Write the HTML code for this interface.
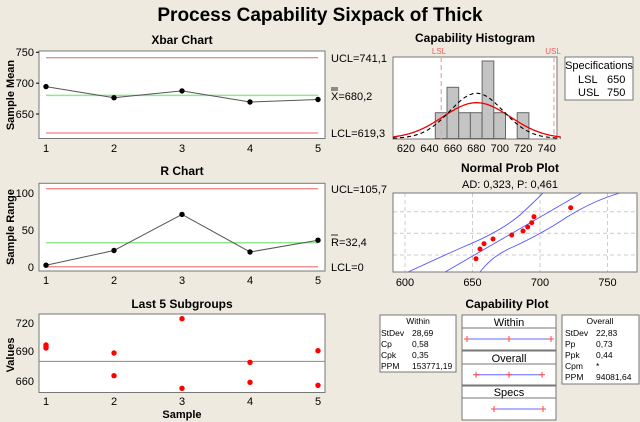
<!DOCTYPE html>
<html><head><meta charset="utf-8"><style>
html,body{margin:0;padding:0;background:#eeeae0;}
svg{display:block;font-family:"Liberation Sans",sans-serif;}
</style></head><body>
<svg width="640" height="422" viewBox="0 0 640 422" xmlns="http://www.w3.org/2000/svg">
<rect width="640" height="422" fill="#eeeae0"/>
<text x="320" y="21" font-size="19" font-weight="bold" text-anchor="middle">Process Capability Sixpack of Thick</text>

<!-- Xbar -->
<text x="182" y="44" font-size="12" font-weight="bold" text-anchor="middle">Xbar Chart</text>
<rect x="39" y="51" width="286" height="87.5" fill="#fff" stroke="#777"/>
<line x1="46" y1="57.8" x2="318" y2="57.8" stroke="#f06060"/>
<line x1="46" y1="95.4" x2="318" y2="95.4" stroke="#90e890" stroke-width="1.5"/>
<line x1="46" y1="133" x2="318" y2="133" stroke="#f06060"/>
<polyline points="46,86.6 114,97.7 182,90.9 250,102 318,99.5" fill="none" stroke="#555"/>
<g fill="#000"><circle cx="46" cy="86.6" r="2.7"/><circle cx="114" cy="97.7" r="2.7"/><circle cx="182" cy="90.9" r="2.7"/><circle cx="250" cy="102" r="2.7"/><circle cx="318" cy="99.5" r="2.7"/></g>
<g font-size="11" text-anchor="end"><text x="34" y="56">750</text><text x="34" y="87">700</text><text x="34" y="118">650</text></g>
<g stroke="#000"><line x1="36" y1="52.3" x2="39" y2="52.3"/><line x1="36" y1="83.2" x2="39" y2="83.2"/><line x1="36" y1="114" x2="39" y2="114"/></g>
<g font-size="11" text-anchor="middle"><text x="46" y="152">1</text><text x="114" y="152">2</text><text x="182" y="152">3</text><text x="250" y="152">4</text><text x="318" y="152">5</text></g>
<text transform="translate(14,95) rotate(-90)" font-size="11" font-weight="bold" text-anchor="middle">Sample Mean</text>
<g font-size="11"><text x="331" y="62">UCL=741,1</text><text x="331" y="100">X=680,2</text><text x="331" y="137">LCL=619,3</text></g>
<line x1="331" y1="88" x2="338" y2="88" stroke="#000" stroke-width="0.8"/><line x1="331" y1="90" x2="338" y2="90" stroke="#000" stroke-width="0.8"/>

<!-- R -->
<text x="182" y="175" font-size="12" font-weight="bold" text-anchor="middle">R Chart</text>
<rect x="39" y="183.3" width="286" height="87.7" fill="#fff" stroke="#777"/>
<line x1="46" y1="188.8" x2="318" y2="188.8" stroke="#f06060"/>
<line x1="46" y1="242.8" x2="318" y2="242.8" stroke="#90e890" stroke-width="1.5"/>
<line x1="46" y1="266.7" x2="318" y2="266.7" stroke="#f89090" stroke-width="1.5"/>
<polyline points="46,265.2 114,250.5 182,214.4 250,252 318,240.2" fill="none" stroke="#555"/>
<g fill="#000"><circle cx="46" cy="265.2" r="2.7"/><circle cx="114" cy="250.5" r="2.7"/><circle cx="182" cy="214.4" r="2.7"/><circle cx="250" cy="252" r="2.7"/><circle cx="318" cy="240.2" r="2.7"/></g>
<g font-size="11" text-anchor="end"><text x="34" y="197">100</text><text x="34" y="234">50</text><text x="34" y="271">0</text></g>
<g font-size="11" text-anchor="middle"><text x="46" y="284">1</text><text x="114" y="284">2</text><text x="182" y="284">3</text><text x="250" y="284">4</text><text x="318" y="284">5</text></g>
<text transform="translate(14,227) rotate(-90)" font-size="11" font-weight="bold" text-anchor="middle">Sample Range</text>
<g font-size="11"><text x="331" y="193">UCL=105,7</text><text x="331" y="246">R=32,4</text><text x="331" y="271">LCL=0</text></g>
<line x1="331" y1="235" x2="338" y2="235" stroke="#000" stroke-width="0.8"/>

<!-- Last 5 -->
<text x="182" y="308" font-size="12" font-weight="bold" text-anchor="middle">Last 5 Subgroups</text>
<rect x="39" y="314" width="286" height="78.5" fill="#fff" stroke="#777"/>
<line x1="39" y1="361.4" x2="325" y2="361.4" stroke="#888"/>
<g fill="#f00"><circle cx="46" cy="345" r="2.7"/><circle cx="46" cy="346.5" r="2.7"/><circle cx="46" cy="348" r="2.7"/><circle cx="114" cy="353" r="2.7"/><circle cx="114" cy="375.7" r="2.7"/><circle cx="182" cy="318.7" r="2.7"/><circle cx="182" cy="388.3" r="2.7"/><circle cx="250" cy="362.3" r="2.7"/><circle cx="250" cy="382.3" r="2.7"/><circle cx="318" cy="350.7" r="2.7"/><circle cx="318" cy="385.3" r="2.7"/></g>
<g font-size="11" text-anchor="end"><text x="34" y="327">720</text><text x="34" y="355">690</text><text x="34" y="385">660</text></g>
<g font-size="11" text-anchor="middle"><text x="46" y="405">1</text><text x="114" y="405">2</text><text x="182" y="405">3</text><text x="250" y="405">4</text><text x="318" y="405">5</text></g>
<text x="182" y="418" font-size="11" font-weight="bold" text-anchor="middle">Sample</text>
<text transform="translate(14,355) rotate(-90)" font-size="11" font-weight="bold" text-anchor="middle">Values</text>

<!-- Histogram -->
<text x="475" y="42" font-size="12" font-weight="bold" text-anchor="middle">Capability Histogram</text>
<rect x="393" y="57" width="164" height="82" fill="#fff" stroke="#777"/>
<g fill="#c4c4c4" stroke="#666">
<rect x="435.3" y="112.7" width="11.7" height="25.8"/>
<rect x="447" y="87.3" width="11.7" height="51.2"/>
<rect x="458.7" y="112.7" width="11.7" height="25.8"/>
<rect x="470.4" y="112.7" width="11.7" height="25.8"/>
<rect x="482.1" y="61" width="11.7" height="77.5"/>
<rect x="493.8" y="112.7" width="11.7" height="25.8"/>
<rect x="517.2" y="112.7" width="11.7" height="25.8"/>
</g>
<line x1="441.2" y1="57" x2="441.2" y2="139" stroke="#f8a0a0" stroke-dasharray="5,3" stroke-width="1.2"/>
<line x1="554" y1="57" x2="554" y2="139" stroke="#f8a0a0" stroke-dasharray="5,3" stroke-width="1.2"/>
<path id="cw" fill="none" stroke="#e00" stroke-width="1.3"/>
<path id="co" fill="none" stroke="#000" stroke-width="1.1" stroke-dasharray="4,3"/>
<g font-size="8" fill="#f06060" text-anchor="middle"><text x="439" y="54">LSL</text><text x="553" y="54">USL</text></g>
<g font-size="11" text-anchor="middle"><text x="406" y="152">620</text><text x="429.4" y="152">640</text><text x="452.9" y="152">660</text><text x="476.3" y="152">680</text><text x="499.8" y="152">700</text><text x="523.2" y="152">720</text><text x="546.7" y="152">740</text></g>
<rect x="565" y="57" width="68" height="43" fill="#fff" stroke="#777"/>
<g font-size="11"><text x="599" y="69" text-anchor="middle">Specifications</text><text x="578" y="83">LSL</text><text x="607" y="83">650</text><text x="578" y="96">USL</text><text x="607" y="96">750</text></g>

<!-- Normal prob -->
<text x="510" y="172" font-size="12" font-weight="bold" text-anchor="middle">Normal Prob Plot</text>
<text x="510" y="188" font-size="11" text-anchor="middle">AD: 0,323, P: 0,461</text>
<svg x="393" y="193" width="244" height="79" viewBox="393 193 244 79" overflow="hidden">
<rect x="393" y="193" width="244" height="79" fill="#fff"/>
<g stroke="#ccc" stroke-dasharray="4,3"><line x1="405" y1="193" x2="405" y2="272"/><line x1="472.5" y1="193" x2="472.5" y2="272"/><line x1="540" y1="193" x2="540" y2="272"/><line x1="607.5" y1="193" x2="607.5" y2="272"/><line x1="393" y1="211.7" x2="637" y2="211.7"/><line x1="393" y1="233.3" x2="637" y2="233.3"/><line x1="393" y1="255" x2="637" y2="255"/></g>
<g fill="none" stroke="#55f" stroke-width="0.9">
<line x1="445" y1="272" x2="581.7" y2="193"/>
<path d="M408,272 Q445,255 463,247 Q500,232 520,215 Q533,203 543,193"/>
<path d="M480,272 Q493,255 513,247 Q545,232 567,217 Q595,200 620,193"/>
</g>
<g fill="#f00"><circle cx="476" cy="258.7" r="2.5"/><circle cx="480" cy="249" r="2.5"/><circle cx="484" cy="243.7" r="2.5"/><circle cx="493" cy="239" r="2.5"/><circle cx="511.7" cy="235" r="2.5"/><circle cx="523" cy="231" r="2.5"/><circle cx="527.7" cy="227" r="2.5"/><circle cx="531.7" cy="222.7" r="2.5"/><circle cx="534" cy="216.7" r="2.5"/><circle cx="570.7" cy="207.7" r="2.5"/></g>
</svg>
<rect x="393" y="193" width="244" height="79" fill="none" stroke="#777"/>
<g font-size="11" text-anchor="middle"><text x="405" y="286">600</text><text x="472.5" y="286">650</text><text x="540" y="286">700</text><text x="607.5" y="286">750</text></g>

<!-- Capability plot -->
<text x="507" y="308" font-size="12" font-weight="bold" text-anchor="middle">Capability Plot</text>
<rect x="380" y="315" width="76" height="57" fill="#fff" stroke="#777"/>
<g font-size="8.5"><text x="418" y="324" text-anchor="middle">Within</text><text x="381" y="336">StDev</text><text x="412" y="336">28,69</text><text x="381" y="347">Cp</text><text x="412" y="347">0,58</text><text x="381" y="358">Cpk</text><text x="412" y="358">0,35</text><text x="381" y="369">PPM</text><text x="412" y="369">153771,19</text></g>
<rect x="562" y="315" width="77" height="69" fill="#fff" stroke="#777"/>
<g font-size="8.5"><text x="600" y="324" text-anchor="middle">Overall</text><text x="565" y="336">StDev</text><text x="596" y="336">22,83</text><text x="565" y="347">Pp</text><text x="596" y="347">0,73</text><text x="565" y="358">Ppk</text><text x="596" y="358">0,44</text><text x="565" y="369">Cpm</text><text x="596" y="369">*</text><text x="565" y="380">PPM</text><text x="596" y="380">94081,64</text></g>
<g fill="#fff" stroke="#777">
<rect x="462" y="315" width="94" height="13"/><rect x="462" y="328" width="94" height="22"/>
<rect x="462" y="351" width="94" height="13"/><rect x="462" y="364" width="94" height="21"/>
<rect x="462" y="386" width="94" height="12"/><rect x="462" y="398" width="94" height="22"/>
</g>
<g font-size="11" text-anchor="middle"><text x="509" y="326">Within</text><text x="509" y="362">Overall</text><text x="509" y="396">Specs</text></g>
<g stroke="#66f"><line x1="467" y1="339" x2="551" y2="339"/><line x1="476" y1="374.7" x2="542" y2="374.7"/><line x1="494" y1="409" x2="543" y2="409"/></g>
<g stroke="#f44">
<path d="M467,336v6M509,336v6M551,336v6M464,339h6M506,339h6M548,339h6"/>
<path d="M476,371.7v6M509,371.7v6M542,371.7v6M473,374.7h6M506,374.7h6M539,374.7h6"/>
<path d="M494,406v6M543,406v6M491,409h6M540,409h6"/>
</g>
</svg>
<script>
function g(id,m,s,H){var d="";for(var v=609;v<=752;v+=1){var x=406+(v-620)*1.172;var y=138.5-H*Math.exp(-(v-m)*(v-m)/(2*s*s));d+=(d?"L":"M")+x.toFixed(1)+","+y.toFixed(1);}document.getElementById(id).setAttribute("d",d);}
g("cw",680.2,28.69,35.8);g("co",680.2,22.83,45.2);
</script>
</body></html>
